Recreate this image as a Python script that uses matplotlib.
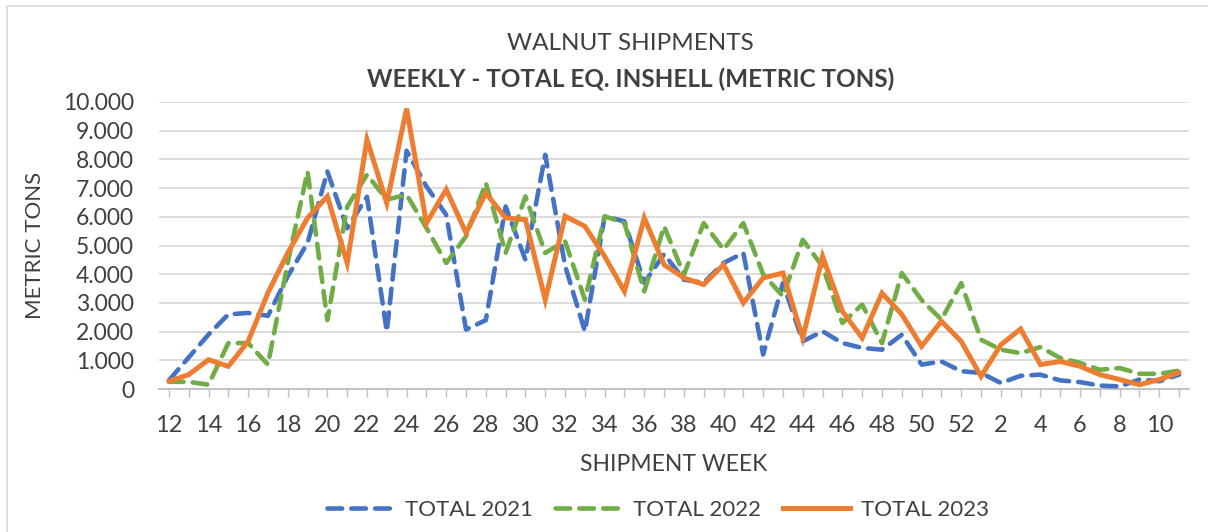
import matplotlib
matplotlib.use("Agg")
import matplotlib.pyplot as plt
from matplotlib.lines import Line2D
from matplotlib.patches import Rectangle

WEEKS = list(range(12, 53)) + list(range(1, 12))

TOTAL_2021 = [
    300, 1100, 1900, 2600, 2650, 2550, 3930, 5090, 7580, 5600,
    6700, 2000, 8300, 7060, 6070, 2070, 2400, 6360, 4500, 8160,
    4300, 2010, 6020, 5840, 3700, 4700, 3810, 3700, 4390, 4740,
    1200, 3690, 1660, 2010, 1600, 1430, 1370, 1890, 850, 960,
    620, 560, 210, 460, 500, 300, 240, 120, 90, 330,
    270, 500,
]
TOTAL_2022 = [
    250, 250, 150, 1600, 1600, 850, 4400, 7580, 2400, 6350,
    7470, 6600, 6770, 5610, 4390, 5320, 7180, 4740, 6710, 4740,
    5150, 3110, 6020, 5780, 3400, 5670, 3980, 5780, 4860, 5780,
    4000, 3230, 5200, 4270, 2300, 2940, 1600, 4040, 3100, 2420,
    3690, 1720, 1370, 1250, 1460, 1080, 910, 670, 730, 530,
    530, 640,
]
TOTAL_2023 = [
    270, 500, 1020, 790, 1660, 3350, 4740, 5960, 6710, 4390,
    8690, 6480, 9770, 5780, 6950, 5440, 6830, 5960, 5900, 3110,
    6020, 5670, 4620, 3400, 5960, 4330, 3870, 3640, 4330, 3000,
    3870, 4040, 1780, 4620, 2710, 1780, 3340, 2600, 1490, 2360,
    1660, 440, 1540, 2090, 850, 960, 790, 500, 330, 150,
    330, 580,
]

Y_TICKS = list(range(0, 10001, 1000))
Y_TICK_LABELS = [f"{v // 1000}.000" if v else "0" for v in Y_TICKS]

BLUE = "#4472C4"
GREEN = "#70AD47"
ORANGE = "#ED7D31"
TEXT = "#404040"
FONT = "Lato"

plt.rcParams["font.family"] = [FONT, "DejaVu Sans"]

fig = plt.figure(figsize=(12.08, 5.32), dpi=100)
fig.patches.append(Rectangle((0.006, -0.1), 1.2, 1.088, transform=fig.transFigure,
                             fill=False, edgecolor="#d9d9d9", lw=1.2))

ax = fig.add_axes([159 / 1208, 1 - 389 / 532, (1189 - 159) / 1208, (389 - 102) / 532])

x = list(range(len(WEEKS)))
dash = dict(dashes=(3.2, 2.0), dash_capstyle="round", lw=3.3)
ax.plot(x, TOTAL_2021, color=BLUE, **dash, zorder=3)
ax.plot(x, TOTAL_2022, color=GREEN, **dash, zorder=4)
ax.plot(x, TOTAL_2023, color=ORANGE, lw=3.6, solid_capstyle="round",
        solid_joinstyle="miter", zorder=5)

ax.set_xlim(-0.5, len(WEEKS) - 0.5)
ax.set_ylim(0, 10000)
ax.set_yticks(Y_TICKS)
ax.set_yticklabels(Y_TICK_LABELS)
ax.set_xticks(x)
ax.set_xticklabels([str(w) if i % 2 == 0 else "" for i, w in enumerate(WEEKS)])
ax.tick_params(axis="x", length=6, width=1, color="#bfbfbf", labelsize=17,
               labelcolor=TEXT, pad=13)
ax.tick_params(axis="y", length=0, labelsize=16.5, labelcolor=TEXT, pad=18)
ax.grid(axis="y", color="#d9d9d9", lw=1.3)
ax.set_axisbelow(True)
for s in ("top", "right", "left"):
    ax.spines[s].set_visible(False)
ax.spines["bottom"].set_color("#bfbfbf")
ax.spines["bottom"].set_linewidth(1.3)

ax.set_xlabel("SHIPMENT WEEK", fontsize=16.5, color=TEXT, labelpad=13)
ax.set_ylabel("METRIC TONS", fontsize=16, color=TEXT, labelpad=13)

fig.text(0.522, 1 - 43 / 532, "WALNUT SHIPMENTS", ha="center", va="center",
         fontsize=17.5, color=TEXT)
fig.text(0.522, 1 - 79 / 532, "WEEKLY - TOTAL EQ. INSHELL (METRIC TONS)",
         ha="center", va="center", fontsize=17.5, fontweight="bold", color=TEXT)

handles = [
    Line2D([0], [0], color=BLUE, **dash),
    Line2D([0], [0], color=GREEN, **dash),
    Line2D([0], [0], color=ORANGE, lw=3.6),
]
fig.legend(handles, ["TOTAL 2021", "TOTAL 2022", "TOTAL 2023"], loc="center",
           bbox_to_anchor=(0.545, 1 - 510 / 532), ncol=3, frameon=False,
           fontsize=16, handlelength=3.0, columnspacing=1.0, handletextpad=0.5,
           labelcolor=TEXT)

fig.savefig("out.png", dpi=100)
